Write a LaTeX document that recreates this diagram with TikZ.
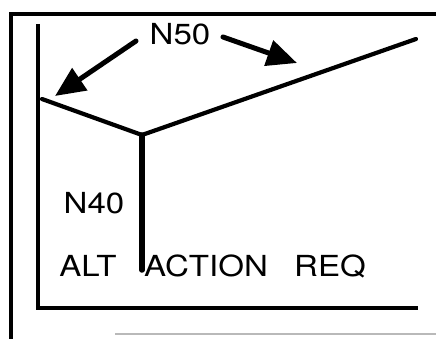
\documentclass[tikz,border=0pt]{standalone}
\usepackage{fontspec}
\setmainfont{TeX Gyre Heros}
\usetikzlibrary{arrows.meta}
\newcommand{\wide}[1]{\scalebox{1.14}[1]{#1}}
\tikzset{frame/.style={line width=3.6pt},wire/.style={line width=4.2pt,line cap=round},
 stem/.style={line width=5.5pt,line cap=round},
 pointer/.style={-{Triangle[length=30pt,width=26pt]},line width=5pt,line cap=round},
 every node/.style={font=\fontsize{29}{29}\selectfont,inner sep=0pt}}

\begin{document}
\begin{tikzpicture}[x=1pt,y=-1pt]
\useasboundingbox (0,0) rectangle (436,339);
% outer and inner frame
\draw[frame,line width=4.2pt] (11,339) -- (11,14) -- (436,14);
\draw[gray!55,line width=1.5pt] (115,334) -- (436,334);
\draw[frame] (38,24) -- (38,308) -- (418,308);
% lines
\coordinate (left) at (42,99);
\coordinate (joint) at (142,135);
\coordinate (right) at (416,39);
\coordinate (foot) at (142,270);
\draw[wire] (left) -- (joint) -- (right);
\draw[stem] (joint) -- (foot);
% labels
\node (n50) at (180,34) {\wide{N50}};
\node (n40) at (94,203) {\wide{N40}};
\node (alt) at (88,266) {\wide{ALT}};
\node (action) at (206,266) {\wide{ACTION}};
\node (req) at (330,266) {\wide{REQ}};
\coordinate (tailL) at (136,41);
\coordinate (tipL) at (55,96);
\coordinate (tailR) at (223,37);
\coordinate (tipR) at (297,63);
\draw[pointer] (tailL) -- (tipL);
\draw[pointer] (tailR) -- (tipR);
\end{tikzpicture}
\end{document}
